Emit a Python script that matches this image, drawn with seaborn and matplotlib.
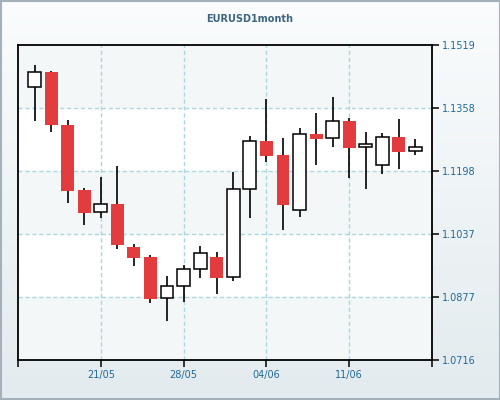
import numpy as np
import pandas as pd
import matplotlib
matplotlib.use("Agg")
import matplotlib.pyplot as plt
from matplotlib.patches import Rectangle
import seaborn as sns

# ---- data ----
dates = ['15/05', '16/05', '17/05', '18/05', '21/05', '22/05', '23/05', '24/05',
         '25/05', '28/05', '29/05', '30/05', '31/05', '01/06', '04/06', '05/06',
         '06/06', '07/06', '08/06', '11/06', '12/06', '13/06', '14/06', '15/06']
open_ = [1.1411, 1.1450, 1.1315, 1.1149, 1.1093, 1.1114, 1.1004, 1.0979,
         1.0873, 1.0904, 1.0947, 1.0979, 1.0927, 1.1151, 1.1274, 1.1239,
         1.1098, 1.1292, 1.1281, 1.1325, 1.1258, 1.1212, 1.1285, 1.1248]
high = [1.1467, 1.1452, 1.1328, 1.1155, 1.1182, 1.1211, 1.1012, 1.0984,
        1.0930, 1.0958, 1.1007, 1.0991, 1.1195, 1.1287, 1.1381, 1.1281,
        1.1307, 1.1345, 1.1386, 1.1332, 1.1296, 1.1295, 1.1330, 1.1279]
low = [1.1324, 1.1298, 1.1117, 1.1061, 1.1079, 1.1000, 1.0956, 1.0862,
       1.0816, 1.0865, 1.0924, 1.0885, 1.0917, 1.1079, 1.1222, 1.1048,
       1.1081, 1.1214, 1.1260, 1.1181, 1.1151, 1.1189, 1.1204, 1.1238]
close = [1.1449, 1.1316, 1.1148, 1.1092, 1.1113, 1.1009, 1.0977, 1.0872,
         1.0904, 1.0947, 1.0988, 1.0926, 1.1151, 1.1274, 1.1237, 1.1112,
         1.1291, 1.1280, 1.1325, 1.1257, 1.1266, 1.1284, 1.1247, 1.1258]
ytick_labels = ['1.0716', '1.0877', '1.1037', '1.1198', '1.1358', '1.1519']
xtick_labels = ['21/05', '28/05', '04/06', '11/06']
title = 'EURUSD1month'

df = pd.DataFrame({'date': dates, 'open': open_, 'high': high,
                   'low': low, 'close': close})
df['pos'] = np.arange(len(df))
df['up'] = df['close'] >= df['open']
df['body_lo'] = df[['open', 'close']].min(axis=1)
df['body_h'] = (df['close'] - df['open']).abs()

sns.set_theme(style="white")
plt.rcParams['font.family'] = ['DejaVu Sans']

fig = plt.figure(figsize=(5, 4), dpi=100)

# background gradient
bg = fig.add_axes([0, 0, 1, 1], zorder=-10)
grad = np.linspace(0, 1, 256).reshape(-1, 1)
from matplotlib.colors import LinearSegmentedColormap
cmap = LinearSegmentedColormap.from_list('bg', ['#fafcfd', '#e3ebee'])
bg.imshow(grad, aspect='auto', cmap=cmap, extent=[0, 1, 0, 1], origin='upper')
bg.set_axis_off()
fig.patches.append(Rectangle((0.001, 0.0015), 0.998, 0.997, transform=fig.transFigure,
                             fill=False, edgecolor='#a3b2ba', linewidth=1.5))

ax = fig.add_axes([0.036, 0.1, 0.828, 0.7875])
yt = [float(v) for v in ytick_labels]
ymin, ymax = yt[0], yt[-1]
ax.set_ylim(ymin, ymax)
ax.set_xlim(-1, len(df))

# alternating bands
for i in range(len(yt) - 1):
    col = '#f3f7f8' if (len(yt) - 2 - i) % 2 == 0 else '#ffffff'
    ax.axhspan(yt[i], yt[i + 1], color=col, zorder=0, lw=0)

# grid
xt_pos = [dates.index(d) for d in xtick_labels]
for y in yt[1:-1]:
    ax.axhline(y, color='#a9d6df', lw=1, ls=(0, (3, 2)), zorder=1)
for x in xt_pos:
    ax.axvline(x, color='#a9d6df', lw=1, ls=(0, (3, 2)), zorder=1)

# wicks
ax.vlines(df['pos'], df['low'], df['high'], color='black', lw=1.2, zorder=2)
# bodies
w = 0.78
up = df[df['up']]
dn = df[~df['up']]
ax.bar(dn['pos'], dn['body_h'], bottom=dn['body_lo'], width=w,
       color='#e33c3e', edgecolor='none', zorder=3)
ax.bar(up['pos'], up['body_h'], bottom=up['body_lo'], width=w,
       color='white', edgecolor='black', linewidth=1.1, zorder=3)

# axes styling
ax.yaxis.tick_right()
ax.set_yticks(yt)
ax.set_yticklabels(ytick_labels)
ax.set_xticks([-1] + xt_pos + [len(df)])
ax.set_xticklabels([''] + xtick_labels + [''])
ax.tick_params(axis='both', direction='out', length=5, width=1.1, color='black',
               labelsize=7, labelcolor='#1f6a96')
ax.tick_params(axis='y', pad=2, left=False, right=True)
ax.tick_params(axis='x', pad=2, bottom=True)
for s in ax.spines.values():
    s.set_visible(True)
    s.set_color('black')
    s.set_linewidth(1.3)
ax.set_xlabel('')
ax.set_ylabel('')
ax.grid(False)

fig.text(0.5, 0.952, title, ha='center', va='center', fontsize=7,
         fontweight='bold', color='#3d6580')

fig.savefig('out.png', dpi=100)
